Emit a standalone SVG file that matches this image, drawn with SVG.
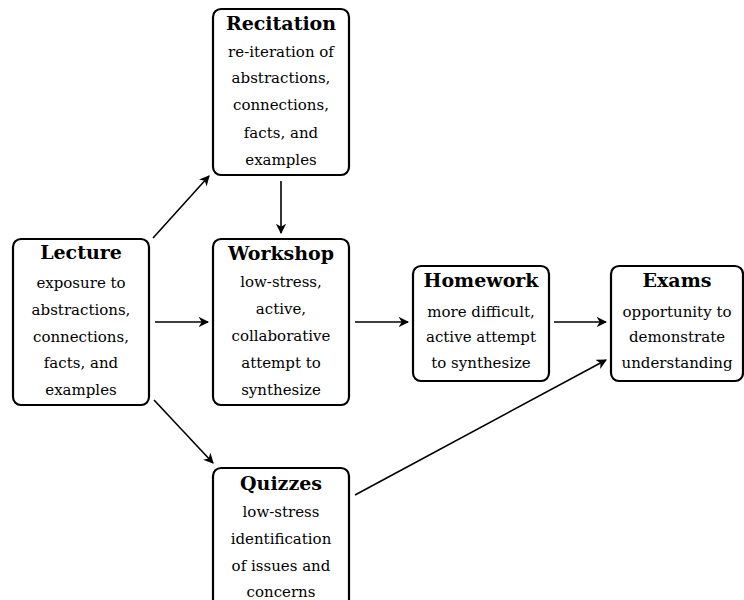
<svg xmlns="http://www.w3.org/2000/svg" width="744" height="600" viewBox="0 0 744 600">
<style>
.box{fill:#fff;stroke:#000;stroke-width:2.2}
.t{font-family:"DejaVu Serif",serif;font-weight:bold;font-size:19px;text-anchor:middle}
.b{font-family:"DejaVu Serif",serif;font-size:15px;text-anchor:middle}
.c{stroke:#000;stroke-width:1.6;fill:none;marker-end:url(#ah)}
</style>
<defs>
<marker id="ah" viewBox="0 0 10 10" refX="9" refY="5" markerWidth="6.5" markerHeight="6.5" orient="auto" markerUnits="strokeWidth">
<path d="M0,0 L10,5 L0,10 L3,5 Z" fill="#000"/>
</marker>
</defs>
<rect width="744" height="600" fill="#fff"/>
<g id="connectors">
<line class="c" x1="153" y1="238" x2="209" y2="176"/>
<line class="c" x1="281" y1="181" x2="281" y2="233"/>
<line class="c" x1="155" y1="322" x2="208" y2="322"/>
<line class="c" x1="154" y1="400" x2="213" y2="463"/>
<line class="c" x1="355" y1="322" x2="408" y2="322"/>
<line class="c" x1="554" y1="322" x2="606" y2="322"/>
<line class="c" x1="355" y1="495" x2="606" y2="360"/>
</g>
<g id="lecture">
<rect class="box" x="13" y="239" width="136" height="166" rx="8"/>
<text class="t" x="81" y="259">Lecture</text>
<text class="b" x="81" y="288">exposure to</text>
<text class="b" x="81" y="315">abstractions,</text>
<text class="b" x="81" y="342">connections,</text>
<text class="b" x="81" y="368">facts, and</text>
<text class="b" x="81" y="395">examples</text>
</g>
<g id="recitation">
<rect class="box" x="213" y="9" width="136" height="166" rx="8"/>
<text class="t" x="281" y="30">Recitation</text>
<text class="b" x="281" y="57">re-iteration of</text>
<text class="b" x="281" y="83">abstractions,</text>
<text class="b" x="281" y="110">connections,</text>
<text class="b" x="281" y="138">facts, and</text>
<text class="b" x="281" y="165">examples</text>
</g>
<g id="workshop">
<rect class="box" x="213" y="239" width="136" height="166" rx="8"/>
<text class="t" x="281" y="260">Workshop</text>
<text class="b" x="281" y="287">low-stress,</text>
<text class="b" x="281" y="314">active,</text>
<text class="b" x="281" y="341">collaborative</text>
<text class="b" x="281" y="368">attempt to</text>
<text class="b" x="281" y="395">synthesize</text>
</g>
<g id="homework">
<rect class="box" x="413" y="266" width="136" height="115" rx="8"/>
<text class="t" x="481" y="287">Homework</text>
<text class="b" x="481" y="317">more difficult,</text>
<text class="b" x="481" y="342">active attempt</text>
<text class="b" x="481" y="368">to synthesize</text>
</g>
<g id="exams">
<rect class="box" x="611" y="266" width="132" height="115" rx="8"/>
<text class="t" x="677" y="287">Exams</text>
<text class="b" x="677" y="317">opportunity to</text>
<text class="b" x="677" y="342">demonstrate</text>
<text class="b" x="677" y="368">understanding</text>
</g>
<g id="quizzes">
<rect class="box" x="213" y="468" width="136" height="150" rx="8"/>
<text class="t" x="281" y="490">Quizzes</text>
<text class="b" x="281" y="517">low-stress</text>
<text class="b" x="281" y="544">identification</text>
<text class="b" x="281" y="571">of issues and</text>
<text class="b" x="281" y="597">concerns</text>
</g>
</svg>
